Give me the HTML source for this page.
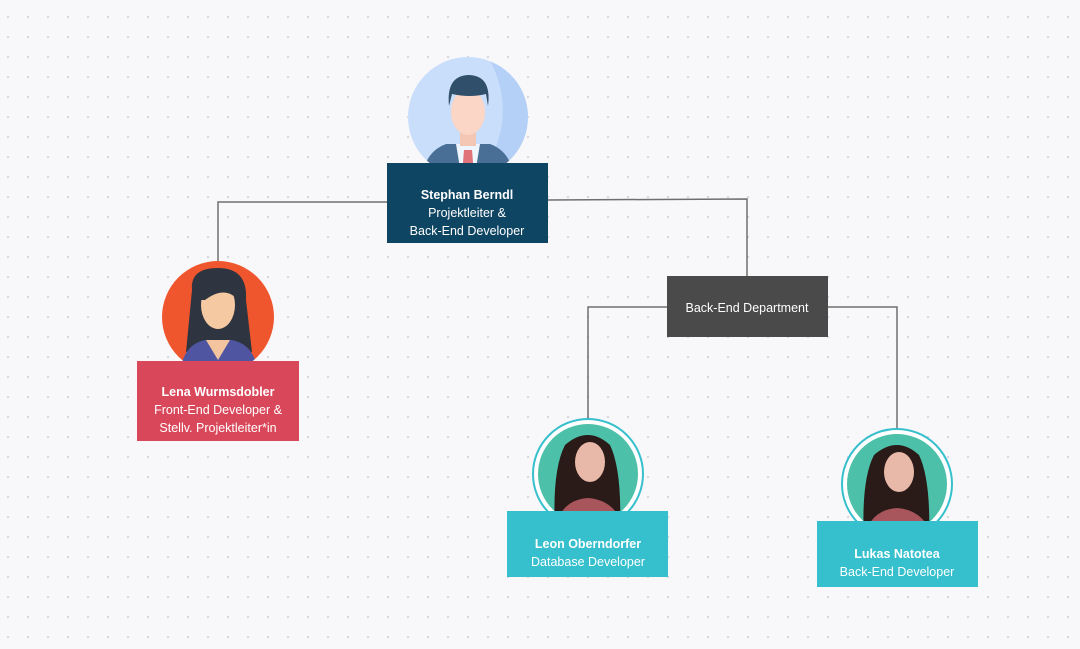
<!DOCTYPE html>
<html><head><meta charset="utf-8"><style>
html,body{margin:0;padding:0;width:1080px;height:649px;overflow:hidden;background:#f8f8fa;font-family:"Liberation Sans",sans-serif}
</style></head><body>
<svg width="1080" height="649" xmlns="http://www.w3.org/2000/svg" style="position:absolute;left:0;top:0">
<defs>
<pattern id="dots" x="7" y="16" width="20" height="20" patternUnits="userSpaceOnUse"><circle cx="1" cy="1" r="1.2" fill="#d6d6dc"/></pattern>
<clipPath id="c1"><ellipse cx="468" cy="117" rx="60" ry="60"/></clipPath>
<clipPath id="c2"><ellipse cx="218" cy="317" rx="56" ry="56"/></clipPath>
<clipPath id="c3"><circle cx="588" cy="474" r="50"/></clipPath>
<clipPath id="c4"><circle cx="897" cy="484" r="50"/></clipPath>
</defs>
<rect width="1080" height="649" fill="url(#dots)"/>
<g fill="none" stroke="#6f6f6f" stroke-width="1.5">
<path d="M387 202 H218 V262"/>
<path d="M548 200 L747 199 V276"/>
<path d="M667 307 H588 V418"/>
<path d="M828 307 H897 V428"/>
</g>
<!-- Stephan -->
<ellipse cx="468" cy="117" rx="60" ry="60" fill="#c9defa"/>
<g clip-path="url(#c1)">
<path d="M490 60 A60 60 0 0 1 528 117 A60 60 0 0 1 500 168 L480 175 Q520 120 490 60Z" fill="#b4d0f6"/>
<path d="M422 180 Q424 152 446 144 L490 144 Q512 152 514 180Z" fill="#4a6f96"/>
<path d="M456 144 L480 144 L474 180 L462 180Z" fill="#eef5fc"/>
<path d="M464 150 L472 150 L474 175 L468 185 L462 175Z" fill="#e0727a"/>
<rect x="460" y="128" width="16" height="18" fill="#f3c7b3"/>
<ellipse cx="468" cy="112" rx="17" ry="23" fill="#fbd5c5"/>
<path d="M449 106 Q446 76 468 75 Q492 75 488 106 L486 94 Q470 98 452 94Z" fill="#2f4f6b"/>
</g>
<rect x="387" y="163" width="161" height="80" fill="#0e4562"/>
<g fill="#fff" font-size="12.5" text-anchor="middle">
<text x="467" y="199" font-weight="bold">Stephan Berndl</text>
<text x="467" y="217">Projektleiter &amp;</text>
<text x="467" y="235">Back-End Developer</text>
</g>
<!-- Lena -->
<ellipse cx="218" cy="317" rx="56" ry="56" fill="#f0562e"/>
<g clip-path="url(#c2)">
<path d="M192 290 Q190 268 218 268 Q248 268 246 300 L252 352 L186 352Z" fill="#2e3440"/>
<path d="M180 375 Q182 345 205 340 L232 340 Q256 345 258 375Z" fill="#4f55a0"/>
<path d="M206 340 L218 360 L230 340Z" fill="#f3c49e"/>
<ellipse cx="218" cy="305" rx="17" ry="24" fill="#f5caa3"/>
<path d="M199 300 Q200 272 222 275 Q236 290 238 300 Q225 285 205 300Z" fill="#2e3440"/>
</g>
<rect x="137" y="361" width="162" height="80" fill="#d9485a"/>
<g fill="#fff" font-size="12.5" text-anchor="middle">
<text x="218" y="396" font-weight="bold">Lena Wurmsdobler</text>
<text x="218" y="414">Front-End Developer &amp;</text>
<text x="218" y="432">Stellv. Projektleiter*in</text>
</g>
<!-- Back-End Department -->
<rect x="667" y="276" width="161" height="61" fill="#4a4a4a"/>
<text x="747" y="312" fill="#fff" font-size="12.5" text-anchor="middle">Back-End Department</text>
<!-- Leon -->
<circle cx="588" cy="474" r="55" fill="#fff" stroke="#36bfcc" stroke-width="2"/>
<circle cx="588" cy="474" r="50" fill="#4cc0a8"/>
<g clip-path="url(#c3)">
<path d="M555 530 Q552 470 565 445 Q588 425 610 445 Q622 470 620 530Z" fill="#2a1a18"/>
<ellipse cx="590" cy="462" rx="15" ry="20" fill="#e8b8a8"/>
<path d="M555 530 Q560 500 588 498 Q616 500 625 530Z" fill="#a8555c"/>
</g>
<rect x="507" y="511" width="161" height="66" fill="#36bfcc"/>
<g fill="#fff" font-size="12.5" text-anchor="middle">
<text x="588" y="548" font-weight="bold">Leon Oberndorfer</text>
<text x="588" y="566">Database Developer</text>
</g>
<!-- Lukas -->
<circle cx="897" cy="484" r="55" fill="#fff" stroke="#36bfcc" stroke-width="2"/>
<circle cx="897" cy="484" r="50" fill="#4cc0a8"/>
<g clip-path="url(#c4)">
<path d="M864 540 Q861 480 874 455 Q897 435 919 455 Q931 480 929 540Z" fill="#2a1a18"/>
<ellipse cx="899" cy="472" rx="15" ry="20" fill="#e8b8a8"/>
<path d="M864 540 Q869 510 897 508 Q925 510 934 540Z" fill="#a8555c"/>
</g>
<rect x="817" y="521" width="161" height="66" fill="#36bfcc"/>
<g fill="#fff" font-size="12.5" text-anchor="middle">
<text x="897" y="558" font-weight="bold">Lukas Natotea</text>
<text x="897" y="576">Back-End Developer</text>
</g>
</svg>
</body></html>
